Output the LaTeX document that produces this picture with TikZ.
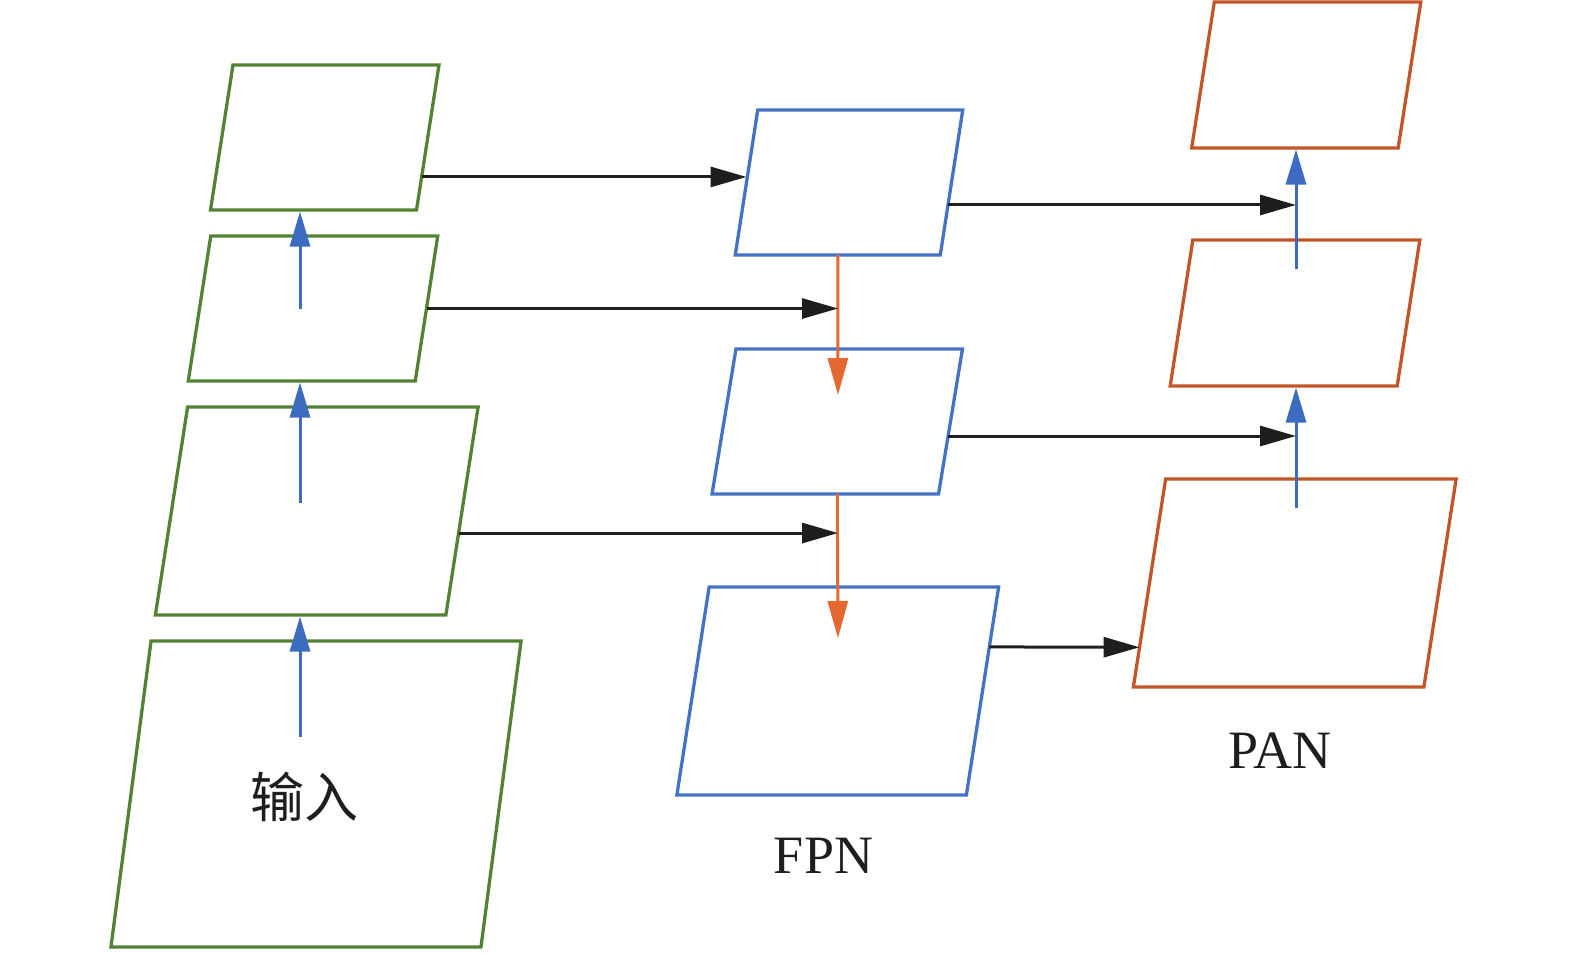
\documentclass[tikz,border=0pt]{standalone}
\usepackage{fontspec}
\setmainfont{Liberation Serif}
\newfontfamily\cjkfont{Noto Sans CJK SC}
\usetikzlibrary{arrows.meta,calc}

\definecolor{ingreen}{RGB}{84,130,53}
\definecolor{fpnblue}{RGB}{68,114,196}
\definecolor{panorange}{RGB}{194,86,40}
\definecolor{upblue}{RGB}{60,108,192}
\definecolor{downorange}{RGB}{229,104,50}
\definecolor{feedblack}{RGB}{30,30,30}

\tikzset{
	layer/.style={draw, rectangle, inner sep=0pt, outer sep=0pt, line width=3.3pt, xslant=#1, transform shape},
	layer/.default=0.155,
	inlayer/.style={layer=#1, draw=ingreen},
	inlayer/.default=0.155,
	fpnlayer/.style={layer=#1, draw=fpnblue},
	fpnlayer/.default=0.155,
	panlayer/.style={layer=#1, draw=panorange},
	panlayer/.default=0.155,
	feed/.style={draw=feedblack, line width=3pt, -{Triangle[length=36pt,width=20pt]}},
	up/.style={draw=upblue, line width=3pt, -{Triangle[length=35pt,width=20pt]}},
	down/.style={draw=downorange, line width=3pt, -{Triangle[length=37pt,width=20pt]}},
	netname/.style={inner sep=0pt, text=feedblack, font=\fontsize{54pt}{60pt}\selectfont}
}

\begin{document}
\begin{tikzpicture}[x=1pt,y=-1pt]
	\useasboundingbox (0,0) rectangle (1575,954);
	\node [inlayer, minimum width=206pt, minimum height=145pt] (g1) at (324.75,137.5) {};
	\node [inlayer, minimum width=227pt, minimum height=145pt] (g2) at (313,308.5) {};
	\node [inlayer, minimum width=290.5pt, minimum height=208pt] (g3) at (316.75,511) {};
	\node [inlayer=0.131, minimum width=370pt, minimum height=306pt] (g4) at (316,794) {};
	\node [fpnlayer, minimum width=205pt, minimum height=145pt] (b1) at (849,182.5) {};
	\node [fpnlayer=0.165, minimum width=226.5pt, minimum height=145pt] (b2) at (837.25,421.5) {};
	\node [fpnlayer, minimum width=289.5pt, minimum height=208pt] (b3) at (837.75,691) {};
	\node [panlayer, minimum width=206.5pt, minimum height=146pt] (o1) at (1306.25,75) {};
	\node [panlayer, minimum width=227pt, minimum height=146pt] (o2) at (1295,313) {};
	\node [panlayer, minimum width=290.5pt, minimum height=208pt] (o3) at (1294.75,583) {};

	\node [netname] (inname) at (304,797) {\cjkfont 输入};
	\node [netname] (fpnname) at (823.5,856) {FPN};
	\node [netname] (panname) at (1280,751) {PAN};

	\coordinate (s1) at (300,309);
	\coordinate (s2) at (300,503);
	\coordinate (s3) at (300,737);
	\coordinate (f1) at (838,395);
	\coordinate (f2) at (838,638);
	\coordinate (p1) at (1296,269);
	\coordinate (p2) at (1296,508);

	\draw [up, shorten >=1.5pt] (s1) -- (g1.south -| s1);
	\draw [up, shorten >=1.5pt] (s2) -- (g2.south -| s2);
	\draw [up, shorten >=1.5pt] (s3) -- (g3.south -| s3);
	\draw [up, shorten >=1.5pt] (p1) -- (o1.south -| p1);
	\draw [up, shorten >=1.5pt] (p2) -- (o2.south -| p2);

	\draw [down] (b1.south) -- (f1);
	\draw [down] (b2.center |- b2.south) -- (f2);

	\draw [feed] ($(g1.south east)!0.228!(g1.north east)$) coordinate (t1) -- (t1 -| b1.west);
	\draw [feed] (g2.east) -- (g2.east -| f1);
	\draw [feed] ($(g3.south east)!0.394!(g3.north east)$) coordinate (t3) -- (t3 -| f1);
	\draw [feed] ($(b1.south east)!0.345!(b1.north east)$) coordinate (t4) -- (t4 -| p1);
	\draw [feed] ($(b2.south east)!0.4!(b2.north east)$) coordinate (t5) -- (t5 -| p1);
	\draw [feed] ($(b3.south east)!0.712!(b3.north east)$) -- ($(o3.south west)!0.191!(o3.north west)$);
\end{tikzpicture}
\end{document}
